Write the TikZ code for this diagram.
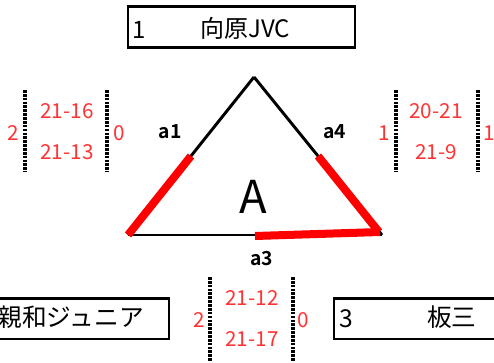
\documentclass[tikz,border=0pt]{standalone}
\usepackage{fontspec}
\setmainfont{Noto Sans CJK JP}[BoldFont={Noto Sans CJK JP Bold}]
\usetikzlibrary{calc}
\definecolor{scorered}{RGB}{255,51,51}
\definecolor{hitred}{RGB}{255,0,0}
\begin{document}
\begin{tikzpicture}[x=0.75pt,y=-0.75pt,
  score/.style={text=scorered, font=\fontsize{15.5}{16}\selectfont, inner sep=0},
  dots/.style={line width=2.3pt, dash pattern=on 2pt off 0.9pt},
  edge/.style={line width=2.2pt},
  hit/.style={line width=6pt, draw=hitred},
  lab/.style={font=\bfseries\fontsize{14.5}{15}\selectfont, inner sep=0},
  teambox/.style={draw, line width=2pt, inner sep=0, minimum height=30.5pt},
  teamtxt/.style={inner sep=0}]
\useasboundingbox (0,0) rectangle (494,362);
\clip (0,0) rectangle (494,362);

% team boxes
\node[teambox, minimum width=170.25pt] (team1) at (241.5,27) {};
\node[teamtxt, anchor=base west, font=\fontsize{18}{19}\selectfont] (t1num) at (132,38) {1};
\node[teamtxt, anchor=base west, font=\fontsize{18}{19}\selectfont] (t1name) at (200,37) {向原JVC};

\node[teambox, minimum width=156.75pt] (team2) at (64.5,318.5) {};
\node[teamtxt, anchor=base east, font=\fontsize{18.5}{19}\selectfont] (t2name) at (144,326) {親和ジュニア};

\node[teambox, minimum width=154.5pt] (team3) at (437,318.5) {};
\node[teamtxt, anchor=base west, font=\fontsize{18.5}{19}\selectfont] (t3num) at (339,327) {3};
\node[teamtxt, anchor=base west, font=\fontsize{18.5}{19}\selectfont] (t3name) at (427,326) {板三};

% triangle
\coordinate (top) at (254,77);
\coordinate (bl) at (128,235);
\coordinate (br) at (382,235);
\draw[edge] (top) -- (bl);
\draw[edge] (top) -- (br);
\draw[edge] (bl) -- (br);
\coordinate (ml) at ($(top)!0.5!(bl)$);
\coordinate (mr) at ($(top)!0.5!(br)$);
\coordinate (mb1) at (255,236);
\coordinate (mb2) at (380,232);
\coordinate (brr) at (379,232);
\draw[hit] (ml) -- (bl);
\draw[hit] (mr) -- (brr);
\draw[hit] (mb1) -- (mb2);

\node[inner sep=0, anchor=base, font=\fontsize{34}{35}\selectfont] (A) at (253,213) {A};
\node[lab, anchor=base] (a1) at (170,138) {a1};
\node[lab, anchor=base] (a4) at (334.5,138) {a4};
\node[lab, anchor=base] (a3) at (261.5,265) {a3};

% left scores
\coordinate (l1a) at (25,90); \coordinate (l1b) at (25,172);
\coordinate (l2a) at (107,90); \coordinate (l2b) at (107,172);
\draw[dots] (l1a) -- (l1b);
\draw[dots] (l2a) -- (l2b);
\node[score, anchor=base] (lw) at (13,140) {2};
\node[score, anchor=base] (ls1) at (67,118) {21-16};
\node[score, anchor=base] (ls2) at (67,159) {21-13};
\node[score, anchor=base] (ll) at (119,140) {0};

% right scores
\coordinate (r1a) at (396,90); \coordinate (r1b) at (396,172);
\coordinate (r2a) at (478,90); \coordinate (r2b) at (478,172);
\draw[dots] (r1a) -- (r1b);
\draw[dots] (r2a) -- (r2b);
\node[score, anchor=base] (rw) at (384,140) {1};
\node[score, anchor=base] (rs1) at (436,118) {20-21};
\node[score, anchor=base] (rs2) at (436,159) {21-9};
\node[score, anchor=base] (rl) at (489.5,140) {1};

% bottom scores
\coordinate (b1a) at (210,277); \coordinate (b1b) at (210,362);
\coordinate (b2a) at (293,277); \coordinate (b2b) at (293,362);
\draw[dots] (b1a) -- (b1b);
\draw[dots] (b2a) -- (b2b);
\node[score, anchor=base] (bw) at (199,327) {2};
\node[score, anchor=base] (bs1) at (252,305) {21-12};
\node[score, anchor=base] (bs2) at (252,346) {21-17};
\node[score, anchor=base] (bl0) at (303,327) {0};
\end{tikzpicture}
\end{document}
